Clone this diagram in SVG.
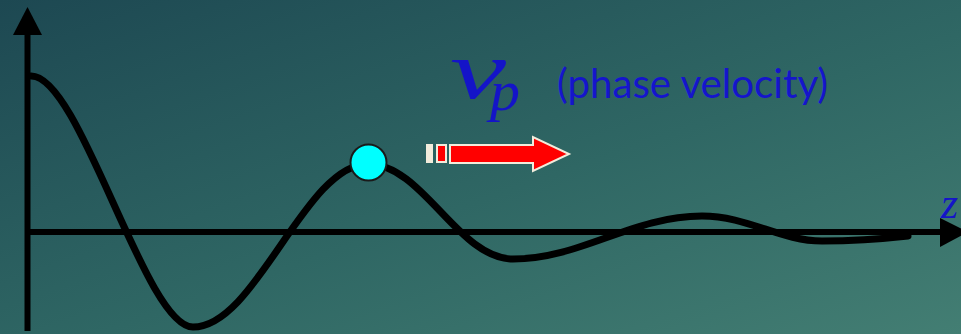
<svg xmlns="http://www.w3.org/2000/svg" width="961" height="334" viewBox="0 0 961 334">
  <defs>
    <linearGradient id="bg" x1="0" y1="0" x2="1" y2="1">
      <stop offset="0" stop-color="#1d4852"/>
      <stop offset="0.55" stop-color="#2f6764"/>
      <stop offset="1" stop-color="#437e73"/>
    </linearGradient>
  </defs>
  <style>
    .axis { stroke:#000; stroke-width:6; fill:none; }
    .wave { stroke:#000; stroke-width:7; fill:none; stroke-linecap:round; stroke-linejoin:round; }
    .math { font-family:"Liberation Serif","DejaVu Serif",serif; font-style:italic; fill:#1414c8; }
    .label { font-family:"Lato","Liberation Sans",sans-serif; fill:#1515cc; }
    .red { fill:#ff0000; stroke:#f2ecdc; stroke-width:2; }
  </style>
  <rect x="0" y="0" width="961" height="334" fill="url(#bg)"/>

  <g id="connectors">
    <g id="y-axis">
      <line class="axis" x1="27.5" y1="331" x2="27.5" y2="34"/>
      <path d="M27.5,7 L42,35 L13,35 Z" fill="#000"/>
    </g>
    <g id="z-axis">
      <line class="axis" x1="25" y1="232" x2="941" y2="232"/>
      <path d="M968,232 L940,218 L940,247 Z" fill="#000"/>
    </g>
  </g>

  <g id="wave">
    <path class="wave" d="M31,76 C80,75 145,327 193,327 C256,327 305,164 368,164 C423,164 458,259 513,259 C581,259 632,216 702,216 C748,216 780,241 822,241 C862,241 890,238 908,236"/>
  </g>

  <g id="particle">
    <circle cx="368.5" cy="162.5" r="18" fill="#00ffff" stroke="#1a1a1a" stroke-width="2"/>
  </g>

  <g id="velocity-arrow">
    <rect x="426" y="144" width="7" height="19" fill="#f2ecdc"/>
    <rect class="red" x="437" y="145" width="9" height="17"/>
    <path class="red" d="M450,145 L533,145 L533,137 L569,154 L533,171 L533,163 L450,163 Z"/>
  </g>

  <g id="labels">
    <text class="math" x="450" y="98" font-size="82" textLength="56" lengthAdjust="spacingAndGlyphs">v</text>
    <text class="math" x="490" y="110" font-size="58" textLength="30" lengthAdjust="spacingAndGlyphs">p</text>
    <text class="label" x="557" y="98" font-size="40" textLength="271" lengthAdjust="spacingAndGlyphs">(phase velocity)</text>
    <text class="math" x="941" y="218" font-size="44">z</text>
  </g>
</svg>
